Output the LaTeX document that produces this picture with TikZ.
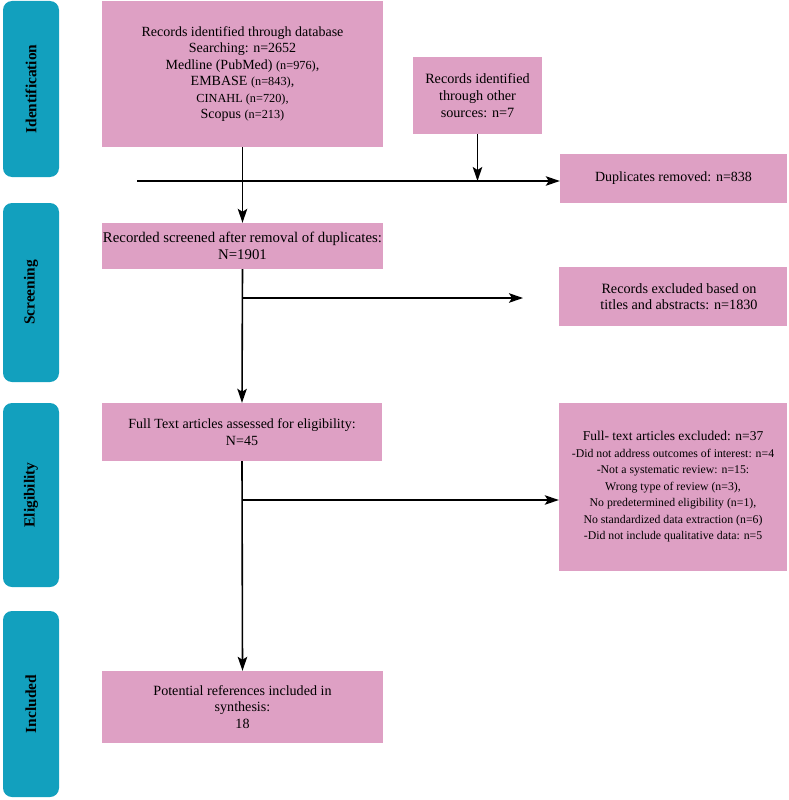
\documentclass[tikz,border=0pt]{standalone}
\usepackage{fontspec}
\setmainfont{Liberation Serif}
\usetikzlibrary{arrows.meta}
\definecolor{pinkbox}{RGB}{222,160,196}
\definecolor{tealbar}{RGB}{18,160,190}
\newcommand\smpart[1]{{\fontsize{12.3}{16.5}\selectfont #1}}
\begin{document}
\begin{tikzpicture}[x=1pt,y=-1pt,
  stagebar/.style={fill=tealbar, rounded corners=9pt, inner sep=0pt, rotate=90,
    font=\bfseries\fontsize{15.4}{17}\selectfont},
  pbox/.style={fill=pinkbox, inner sep=1pt, align=center, font=\fontsize{14}{16.5}\selectfont},
  conn/.style={line width=1.6pt, -{Stealth[length=14pt,width=9.5pt,inset=3pt]}}]
\useasboundingbox (0,0) rectangle (789,800);

% stage bars
\node[stagebar, minimum width=176pt, minimum height=56pt] (idbar) at (31,89) {Identification};
\node[stagebar, minimum width=179pt, minimum height=56pt] (scbar) at (31,292.5) {Screening};
\node[stagebar, minimum width=184pt, minimum height=56pt] (elbar) at (31,495) {Eligibility};
\node[stagebar, minimum width=186pt, minimum height=56pt] (inbar) at (31,704) {Included};

% boxes
\node[pbox, minimum width=281pt, minimum height=146pt] (db) at (242.5,74) {Records identified through database\\
Searching: n=2652\\
Medline (PubMed) \smpart{(n=976)},\\
EMBASE \smpart{(n=843)},\\
\smpart{CINAHL (n=720),}\\
Scopus \smpart{(n=213)}};
\node[pbox, minimum width=129pt, minimum height=77pt, font=\fontsize{14.2}{17}\selectfont] (other) at (477.5,95.5) {Records identified\\through other\\sources: n=7};
\node[pbox, minimum width=227pt, minimum height=49pt] (dup) at (673.5,178.5) {Duplicates removed: n=838};
\node[pbox, minimum width=281pt, minimum height=46pt, font=\fontsize{14.8}{16.5}\selectfont] (screened) at (242.5,246) {Recorded screened after removal of duplicates:\\N=1901};
\node[pbox, minimum width=228pt, minimum height=59pt, font=\fontsize{14.2}{16.5}\selectfont] (excla) at (673,296.5) {\hspace*{12pt}Records excluded based on\\\hspace*{12pt}titles and abstracts: n=1830};
\node[pbox, minimum width=280pt, minimum height=58pt] (full) at (242,432) {Full Text articles assessed for eligibility:\\N=45};
\node[pbox, minimum width=228pt, minimum height=168pt, font=\fontsize{11.8}{16.5}\selectfont] (exclb) at (673,487) {{\fontsize{13.5}{16.5}\selectfont Full- text articles excluded: n=37}\\
-Did not address outcomes of interest: n=4\\
-Not a systematic review: n=15:\\
Wrong type of review (n=3),\\
No predetermined eligibility (n=1),\\
No standardized data extraction (n=6)\\
-Did not include qualitative data: n=5};
\node[pbox, minimum width=281pt, minimum height=72pt, font=\fontsize{14.1}{16.5}\selectfont] (incl) at (242.5,707) {Potential references included in\\synthesis:\\18};

% connectors
\coordinate (hstart) at (137,181);
\coordinate (bra) at (242.5,298);
\coordinate (braend) at (523,298);
\coordinate (brb) at (242.5,500);

\draw[conn] (db.south) -- (screened.north);
\draw[conn] (hstart) -- (hstart -| dup.west);
\draw[conn] (other.south) -- (other.south |- hstart);
\draw[conn] (screened.south) -- (full.north);
\draw[conn] (bra) -- (braend);
\draw[conn] (full.south) -- (incl.north);
\draw[conn] (brb) -- (brb -| exclb.west);
\end{tikzpicture}
\end{document}
